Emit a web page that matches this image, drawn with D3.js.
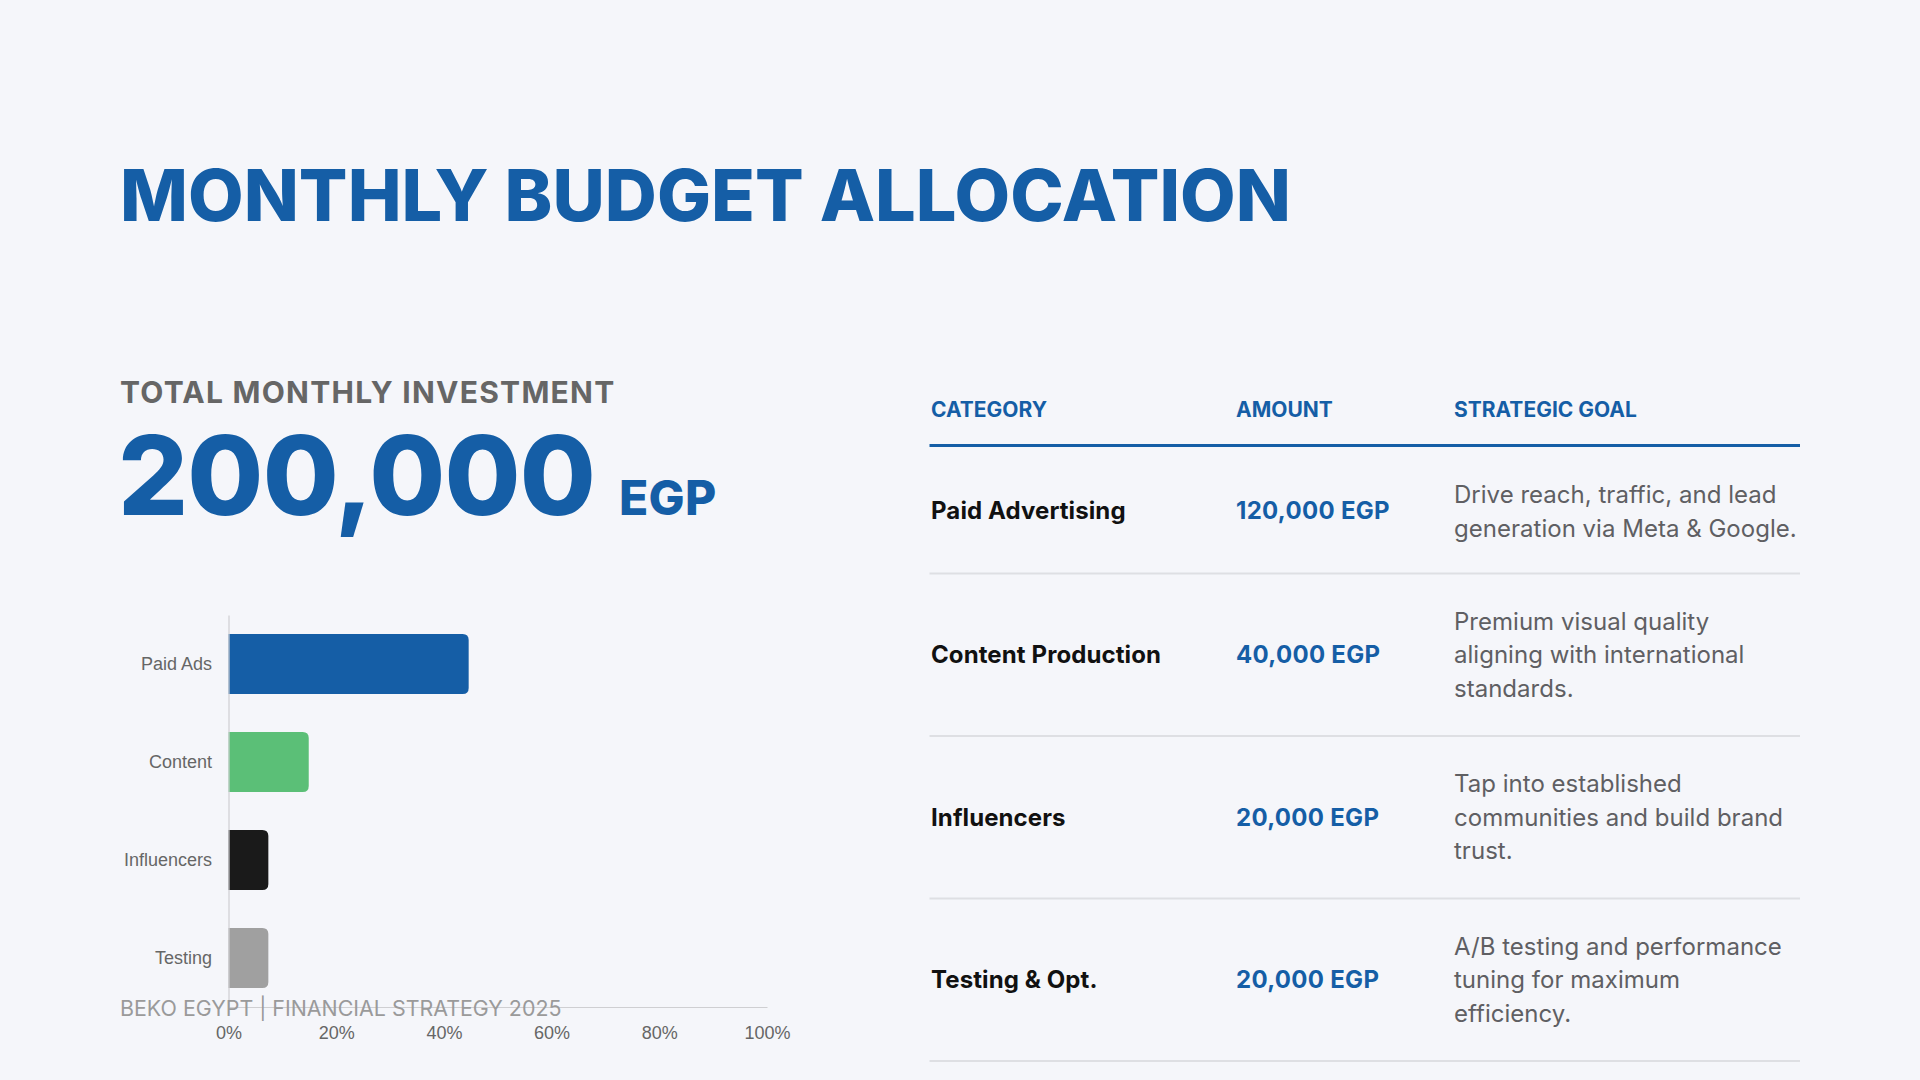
<!DOCTYPE html>
<html>
<head>
<meta charset="utf-8">
<script src="https://cdn.jsdelivr.net/npm/d3@7"></script>
<style>
  html, body { margin: 0; padding: 0; background: #F5F6FA; }
  svg { display: block; }
</style>
</head>
<body>
<svg id="page" width="1920" height="1080"></svg>
<script>
// ---------- data ----------
const pageTitle = "MONTHLY BUDGET ALLOCATION";
const totalLabel = "TOTAL MONTHLY INVESTMENT";
const totalInvestment = 200000;
const currency = "EGP";
const footerText = "BEKO EGYPT | FINANCIAL STRATEGY 2025";

const barCategories = ["Paid Ads", "Content", "Influencers", "Testing"];
const barShares = [44.6, 14.9, 7.4, 7.4];          // % as drawn on the axis
const xTickValues = [0, 20, 40, 60, 80, 100];

const tableHeaders = ["CATEGORY", "AMOUNT", "STRATEGIC GOAL"];
const tableCategories = ["Paid Advertising", "Content Production", "Influencers", "Testing & Opt."];
const tableAmounts = [120000, 40000, 20000, 20000];
const tableGoals = [
  ["Drive reach, traffic, and lead", "generation via Meta & Google."],
  ["Premium visual quality", "aligning with international", "standards."],
  ["Tap into established", "communities and build brand", "trust."],
  ["A/B testing and performance", "tuning for maximum", "efficiency."]
];

// ---------- setup ----------
const BLUE = "#155EA6";
const svg = d3.select("#page");
const fmt = d3.format(",");

// Title
svg.append("text")
  .attr("x", 120).attr("y", 221)
  .attr("font-family", "Inter").attr("font-weight", 800)
  .attr("font-size", 72).attr("letter-spacing", 0.05)
  .attr("fill", BLUE)
  .text(pageTitle);

// Total block
svg.append("text")
  .attr("x", 120).attr("y", 402.5)
  .attr("font-family", "Inter").attr("font-weight", 700)
  .attr("font-size", 30).attr("letter-spacing", 1.25)
  .attr("fill", "#666666")
  .text(totalLabel);

const totalText = svg.append("text")
  .attr("x", 118).attr("y", 515)
  .attr("font-family", "Inter").attr("font-weight", 800)
  .attr("font-size", 110).attr("letter-spacing", -0.8)
  .attr("fill", BLUE);
totalText.append("tspan").text(fmt(totalInvestment));
totalText.append("tspan")
  .attr("dx", 24)
  .attr("font-size", 48).attr("font-weight", 800).attr("letter-spacing", 0.2)
  .text(currency);

// ---------- bar chart ----------
const x = d3.scaleLinear().domain([0, 100]).range([228.5, 767]);
const y = d3.scaleBand().domain(barCategories).range([615, 1007])
  .paddingInner(0.388).paddingOuter(0.194);
const color = d3.scaleOrdinal().domain(barCategories)
  .range(["#155EA6", "#5BBF77", "#1A1A1A", "#A0A0A0"]);

const chart = svg.append("g");

function barPath(x0, x1, y0, h, r) {
  const rr = Math.min(r, (x1 - x0), h / 2);
  return `M${x0},${y0}H${x1 - rr}Q${x1},${y0} ${x1},${y0 + rr}V${y0 + h - rr}Q${x1},${y0 + h} ${x1 - rr},${y0 + h}H${x0}Z`;
}

chart.selectAll("path.bar")
  .data(barCategories.map((c, i) => ({ c, v: barShares[i] })))
  .join("path")
  .attr("class", "bar")
  .attr("fill", d => color(d.c))
  .attr("d", d => barPath(x(0), x(d.v), y(d.c), y.bandwidth(), 6));

const yAxis = chart.append("g")
  .attr("transform", `translate(${x(0)},0)`)
  .call(d3.axisLeft(y).tickSize(0).tickSizeOuter(0).tickPadding(16.5));
yAxis.select(".domain").attr("stroke", "#CFCFD2").attr("stroke-width", 1.2);
yAxis.selectAll("text")
  .attr("font-family", "Liberation Sans, Arial, sans-serif")
  .attr("font-size", 18).attr("fill", "#666666");

const xAxis = chart.append("g")
  .attr("transform", `translate(0,${y.range()[1]})`)
  .call(d3.axisBottom(x).tickValues(xTickValues).tickFormat(d => d + "%")
    .tickSize(0).tickSizeOuter(0).tickPadding(19.3));
xAxis.select(".domain").attr("stroke", "#CFCFD2").attr("stroke-width", 1.2);
xAxis.selectAll("text")
  .attr("font-family", "Liberation Sans, Arial, sans-serif")
  .attr("font-size", 18).attr("fill", "#666666");

// footer (drawn over chart)
svg.append("text")
  .attr("x", 120).attr("y", 1015.5)
  .attr("font-family", "Inter").attr("font-weight", 400)
  .attr("font-size", 21.4).attr("letter-spacing", 0)
  .attr("fill", "#9A9A9A")
  .text(footerText);

// ---------- table ----------
const colX = [931, 1236, 1454];
const tableLeft = 929.5, tableRight = 1800;
const textLineH = 33.6, rowLineH = 36, rowPad = 54.5;
const table = svg.append("g");

table.selectAll("text.hdr")
  .data(tableHeaders)
  .join("text")
  .attr("class", "hdr")
  .attr("x", (d, i) => colX[i]).attr("y", 417.3)
  .attr("font-family", "Inter").attr("font-weight", 700)
  .attr("font-size", 21).attr("letter-spacing", 0)
  .attr("fill", BLUE)
  .text(d => d);

table.append("line")
  .attr("x1", tableLeft).attr("x2", tableRight)
  .attr("y1", 445.5).attr("y2", 445.5)
  .attr("stroke", BLUE).attr("stroke-width", 3);

// row positions from number of goal lines
const rows = [];
let rowTop = 447;
tableCategories.forEach((c, i) => {
  const h = tableGoals[i].length * rowLineH + rowPad;
  rows.push({ c, amount: tableAmounts[i], goal: tableGoals[i], top: rowTop, h });
  rowTop += h;
});

const rowG = table.selectAll("g.row").data(rows).join("g").attr("class", "row");

rowG.append("line")
  .attr("x1", tableLeft).attr("x2", tableRight)
  .attr("y1", d => d.top + d.h).attr("y2", d => d.top + d.h)
  .attr("stroke", "#DEDFE3").attr("stroke-width", 2);

rowG.append("text")
  .attr("x", colX[0]).attr("y", d => d.top + d.h / 2 + 8.7)
  .attr("font-family", "Inter").attr("font-weight", 700)
  .attr("font-size", 24).attr("letter-spacing", 0.1)
  .attr("fill", "#111111")
  .text(d => d.c);

rowG.append("text")
  .attr("x", colX[1]).attr("y", d => d.top + d.h / 2 + 8.7)
  .attr("font-family", "Inter").attr("font-weight", 700)
  .attr("font-size", 24).attr("letter-spacing", 0.3)
  .attr("fill", BLUE)
  .text(d => fmt(d.amount) + " " + currency);

rowG.append("text")
  .attr("font-family", "Inter").attr("font-weight", 400)
  .attr("font-size", 24).attr("letter-spacing", 0.02)
  .attr("fill", "#5F5F63")
  .selectAll("tspan")
  .data(d => d.goal.map((g, k) => ({ g, yy: d.top + 56 + k * textLineH })))
  .join("tspan")
  .attr("x", colX[2]).attr("y", d => d.yy)
  .text(d => d.g);
</script>
</body>
</html>
